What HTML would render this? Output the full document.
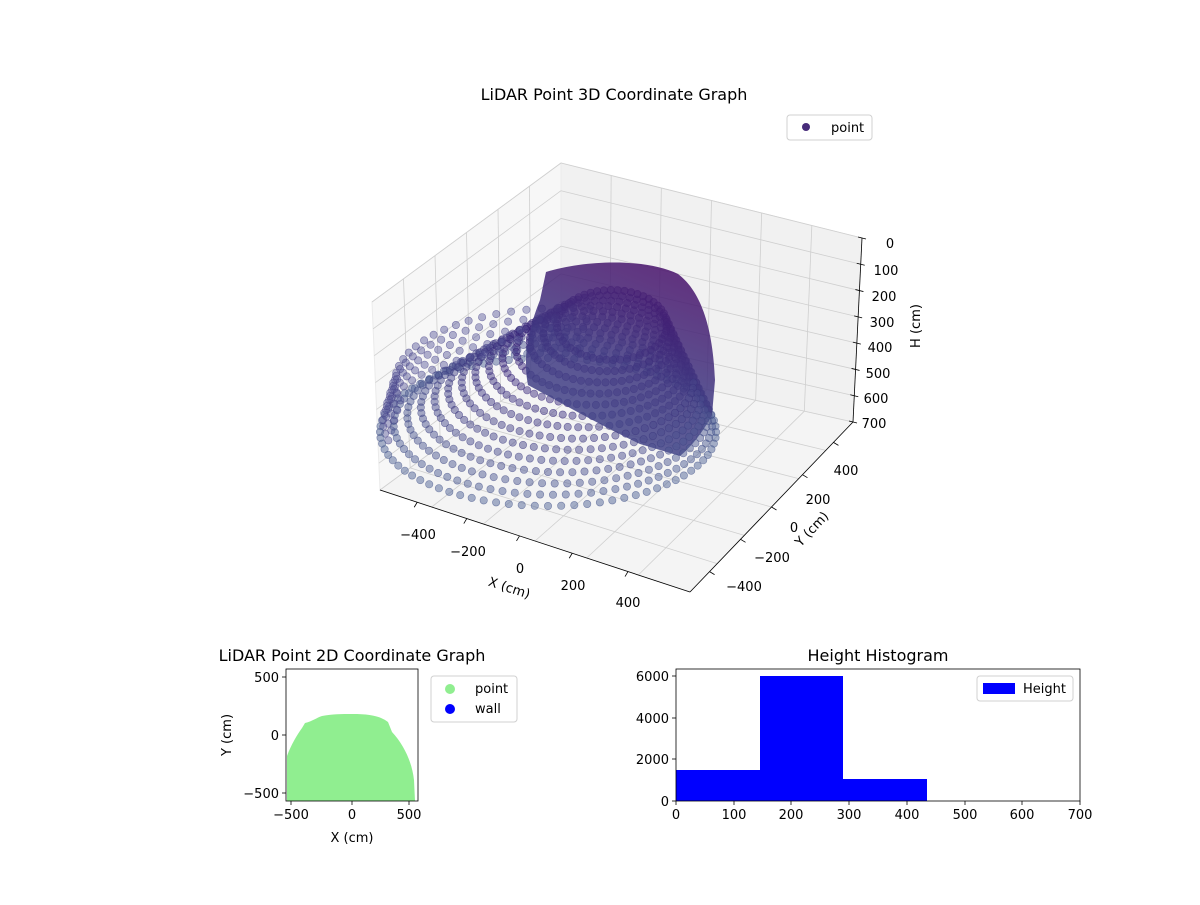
<!DOCTYPE html>
<html><head><meta charset="utf-8"><style>
body{margin:0;background:#fff}
svg text{font-family:"DejaVu Sans","Liberation Sans",sans-serif;font-size:13px;fill:#000}
</style></head><body>
<svg id="s" width="1200" height="900" viewBox="0 0 1200 900" xmlns="http://www.w3.org/2000/svg">
<defs>
<linearGradient id="dg" x1="0.7" y1="0" x2="0.3" y2="1">
<stop offset="0" stop-color="#48106a"/><stop offset="0.5" stop-color="#3f3680"/><stop offset="1" stop-color="#42488a"/>
</linearGradient>
</defs>
<rect width="1200" height="900" fill="#fff"/>
<text x="614" y="100" text-anchor="middle" style="font-size:16px">LiDAR Point 3D Coordinate Graph</text>
<polygon points="372,302 561,163 561,357 380,490" fill="#f7f7f7" stroke="#ebebeb"/>
<polygon points="561,163 862,238 853,422 561,357" fill="#f1f1f1" stroke="#ebebeb"/>
<polygon points="380,490 561,357 853,422 690,592" fill="#f4f4f4" stroke="#ebebeb"/>
<g id="grid" stroke="#cfcfcf" stroke-width="0.8" fill="none"></g>
<g id="back"></g>
<g id="front"></g>
<path d="M540,300 L546,272 C585,260 645,258 678,274 C702,292 713,330 715,380 L712,415 C703,432 692,446 680,456 L640,444 C600,425 565,405 528,385 C522,355 530,325 540,300 Z" fill="url(#dg)" opacity="0.85"/>
<g id="front2"></g>
<line x1="380" y1="490" x2="690" y2="592" stroke="#000" stroke-width="0.8"/>
<line x1="690" y1="592" x2="853" y2="422" stroke="#000" stroke-width="0.8"/>
<line x1="862" y1="238" x2="853" y2="422" stroke="#000" stroke-width="0.8"/>
<g id="ticks" stroke="#000" stroke-width="0.8"></g>
<g>
<text x="418" y="539" text-anchor="middle">−400</text>
<text x="468" y="556" text-anchor="middle">−200</text>
<text x="520" y="573" text-anchor="middle">0</text>
<text x="573" y="590" text-anchor="middle">200</text>
<text x="628" y="607" text-anchor="middle">400</text>
<text x="508" y="592" text-anchor="middle" transform="rotate(18 508 592)">X (cm)</text>
<text x="744" y="591" text-anchor="middle">−400</text>
<text x="772" y="562" text-anchor="middle">−200</text>
<text x="794" y="532" text-anchor="middle">0</text>
<text x="818" y="504" text-anchor="middle">200</text>
<text x="846" y="475" text-anchor="middle">400</text>
<text x="815" y="532" text-anchor="middle" transform="rotate(-47 815 532)">Y (cm)</text>
<text x="890" y="248" text-anchor="middle">0</text>
<text x="886" y="275" text-anchor="middle">100</text>
<text x="884" y="301" text-anchor="middle">200</text>
<text x="882" y="327" text-anchor="middle">300</text>
<text x="880" y="352" text-anchor="middle">400</text>
<text x="878" y="378" text-anchor="middle">500</text>
<text x="876" y="403" text-anchor="middle">600</text>
<text x="874" y="428" text-anchor="middle">700</text>
<text x="920" y="326" text-anchor="middle" transform="rotate(-90 920 326)">H (cm)</text>
</g>
<rect x="787" y="115" width="85" height="25" rx="3" fill="#fff" stroke="#d0d0d0"/>
<circle cx="806" cy="127" r="4" fill="#472c7a"/>
<text x="831" y="132">point</text>
<!-- 2D -->
<text x="352" y="661" text-anchor="middle" style="font-size:16px">LiDAR Point 2D Coordinate Graph</text>
<path d="M287,801 L287,756 C291,745 297,735 302,728 L305,723 C313,721 316,718 322,716 C332,714 342,714 352,714 C370,714 380,716 388,722 L392,732 C404,745 412,762 414,780 L415,801 Z" fill="#90ee90"/>
<rect x="286" y="669" width="132" height="132" fill="none" stroke="#000" stroke-width="0.8"/>
<g stroke="#000" stroke-width="0.8">
<line x1="282" y1="677" x2="286" y2="677"/><line x1="282" y1="735" x2="286" y2="735"/><line x1="282" y1="793" x2="286" y2="793"/>
<line x1="291" y1="801" x2="291" y2="805"/><line x1="352" y1="801" x2="352" y2="805"/><line x1="409" y1="801" x2="409" y2="805"/>
</g>
<text x="279" y="682" text-anchor="end">500</text>
<text x="279" y="740" text-anchor="end">0</text>
<text x="279" y="798" text-anchor="end">−500</text>
<text x="291" y="819" text-anchor="middle">−500</text>
<text x="352" y="819" text-anchor="middle">0</text>
<text x="409" y="819" text-anchor="middle">500</text>
<text x="352" y="842" text-anchor="middle">X (cm)</text>
<text x="231" y="735" text-anchor="middle" transform="rotate(-90 231 735)">Y (cm)</text>
<rect x="431" y="676" width="86" height="46" rx="3" fill="#fff" stroke="#d0d0d0"/>
<circle cx="450" cy="689" r="5" fill="#90ee90"/><text x="475" y="693">point</text>
<circle cx="450" cy="709" r="5" fill="#0000ff"/><text x="475" y="713">wall</text>
<!-- histogram -->
<text x="878" y="661" text-anchor="middle" style="font-size:16px">Height Histogram</text>
<rect x="676" y="770" width="84" height="31" fill="#0000ff"/>
<rect x="760" y="676" width="83" height="125" fill="#0000ff"/>
<rect x="843" y="779" width="84" height="22" fill="#0000ff"/>
<rect x="676" y="669" width="404" height="132" fill="none" stroke="#000" stroke-width="0.8"/>
<g stroke="#000" stroke-width="0.8">
<line x1="672" y1="801" x2="676" y2="801"/><line x1="672" y1="759" x2="676" y2="759"/><line x1="672" y1="718" x2="676" y2="718"/><line x1="672" y1="676" x2="676" y2="676"/>
<line x1="676" y1="801" x2="676" y2="805"/><line x1="734" y1="801" x2="734" y2="805"/><line x1="791" y1="801" x2="791" y2="805"/><line x1="849" y1="801" x2="849" y2="805"/><line x1="907" y1="801" x2="907" y2="805"/><line x1="965" y1="801" x2="965" y2="805"/><line x1="1022" y1="801" x2="1022" y2="805"/><line x1="1080" y1="801" x2="1080" y2="805"/>
</g>
<text x="669" y="806" text-anchor="end">0</text>
<text x="669" y="764" text-anchor="end">2000</text>
<text x="669" y="723" text-anchor="end">4000</text>
<text x="669" y="681" text-anchor="end">6000</text>
<text x="676" y="819" text-anchor="middle">0</text><text x="734" y="819" text-anchor="middle">100</text><text x="791" y="819" text-anchor="middle">200</text><text x="849" y="819" text-anchor="middle">300</text><text x="907" y="819" text-anchor="middle">400</text><text x="965" y="819" text-anchor="middle">500</text><text x="1022" y="819" text-anchor="middle">600</text><text x="1080" y="819" text-anchor="middle">700</text>
<rect x="977" y="676" width="96" height="25" rx="3" fill="#fff" stroke="#d0d0d0"/>
<rect x="983" y="683" width="32" height="11" fill="#0000ff"/>
<text x="1023" y="693">Height</text>
</svg>
<script>
var NS="http://www.w3.org/2000/svg";
function el(p,t,a){var e=document.createElementNS(NS,t);for(var k in a)e.setAttribute(k,a[k]);p.appendChild(e);}
var g=document.getElementById('grid'),tk=document.getElementById('ticks'),bk=document.getElementById('back'),fr=document.getElementById('front'),fr2=document.getElementById('front2');
function L(a,b,t){return [a[0]+(b[0]-a[0])*t,a[1]+(b[1]-a[1])*t];}
var A=[372,302],B=[561,163],C=[561,357],D=[380,490],E=[862,238],F=[853,422],G=[690,592];
for(var i=1;i<6;i++){var t=i/6;var p=L(A,B,t),q=L(D,C,t);el(g,'line',{x1:p[0],y1:p[1],x2:q[0],y2:q[1]});var f=L(D,G,t);el(g,'line',{x1:f[0],y1:f[1],x2:L(C,F,t)[0],y2:L(C,F,t)[1]});}
for(var i=1;i<6;i++){var t=i/6;var p=L(B,E,t),q=L(C,F,t);el(g,'line',{x1:p[0],y1:p[1],x2:q[0],y2:q[1]});var r=L(D,C,t),s=L(G,F,t);el(g,'line',{x1:r[0],y1:r[1],x2:s[0],y2:s[1]});}
for(var i=0;i<=7;i++){var t=i/7;var p=L(B,C,t),q=L(A,D,t),r=L(E,F,t);el(g,'line',{x1:q[0],y1:q[1],x2:p[0],y2:p[1]});el(g,'line',{x1:p[0],y1:p[1],x2:r[0],y2:r[1]});
el(tk,'line',{x1:r[0]-4,y1:r[1]-1,x2:r[0]+4,y2:r[1]+1});}
var xs=[0.12,0.28,0.45,0.62,0.8];for(var i=0;i<5;i++){var p=L(D,G,xs[i]);el(tk,'line',{x1:p[0],y1:p[1],x2:p[0]-3,y2:p[1]+5});}
for(var i=0;i<5;i++){var p=L(G,F,0.12+i*0.19);el(tk,'line',{x1:p[0],y1:p[1],x2:p[0]+5,y2:p[1]+3});}
function dot(par,x,y,r,gg,b,al){el(par,'circle',{cx:x.toFixed(1),cy:y.toFixed(1),r:3.7,fill:'rgba('+r+','+gg+','+b+','+al+')',stroke:'rgba('+(r-15)+','+Math.max(0,gg-20)+','+(b-15)+',0.6)','stroke-width':0.6});}
var K=14;
for(var k=0;k<K;k++){var t=k/(K-1);
var cx=548+(612-548)*t, cy=432+(325-432)*t, rx=168-(168-55)*t, ry=74-(74-35)*t;
var n=Math.round(80-30*t);
for(var j=0;j<n;j++){var a=j/n*2*Math.PI+(k%2)*0.04;var x=cx+rx*Math.cos(a),y=cy+ry*Math.sin(a);
var r=Math.round(82-22*t),gg=Math.round(102-72*t),b=Math.round(152-30*t);
var tgt=Math.sin(a)<0?bk:(k<7?fr2:fr);
dot(tgt,x,y,r,gg,b,0.5);}}
for(var j=0;j<22;j++){var a=Math.PI*(0.92+j*0.03);var x=548+168*Math.cos(a),y0=432+74*Math.sin(a);
for(var m=1;m<6;m++){dot(bk,x+m*3,y0-m*10,85,85,150,0.45);}}
</script>
</body></html>
